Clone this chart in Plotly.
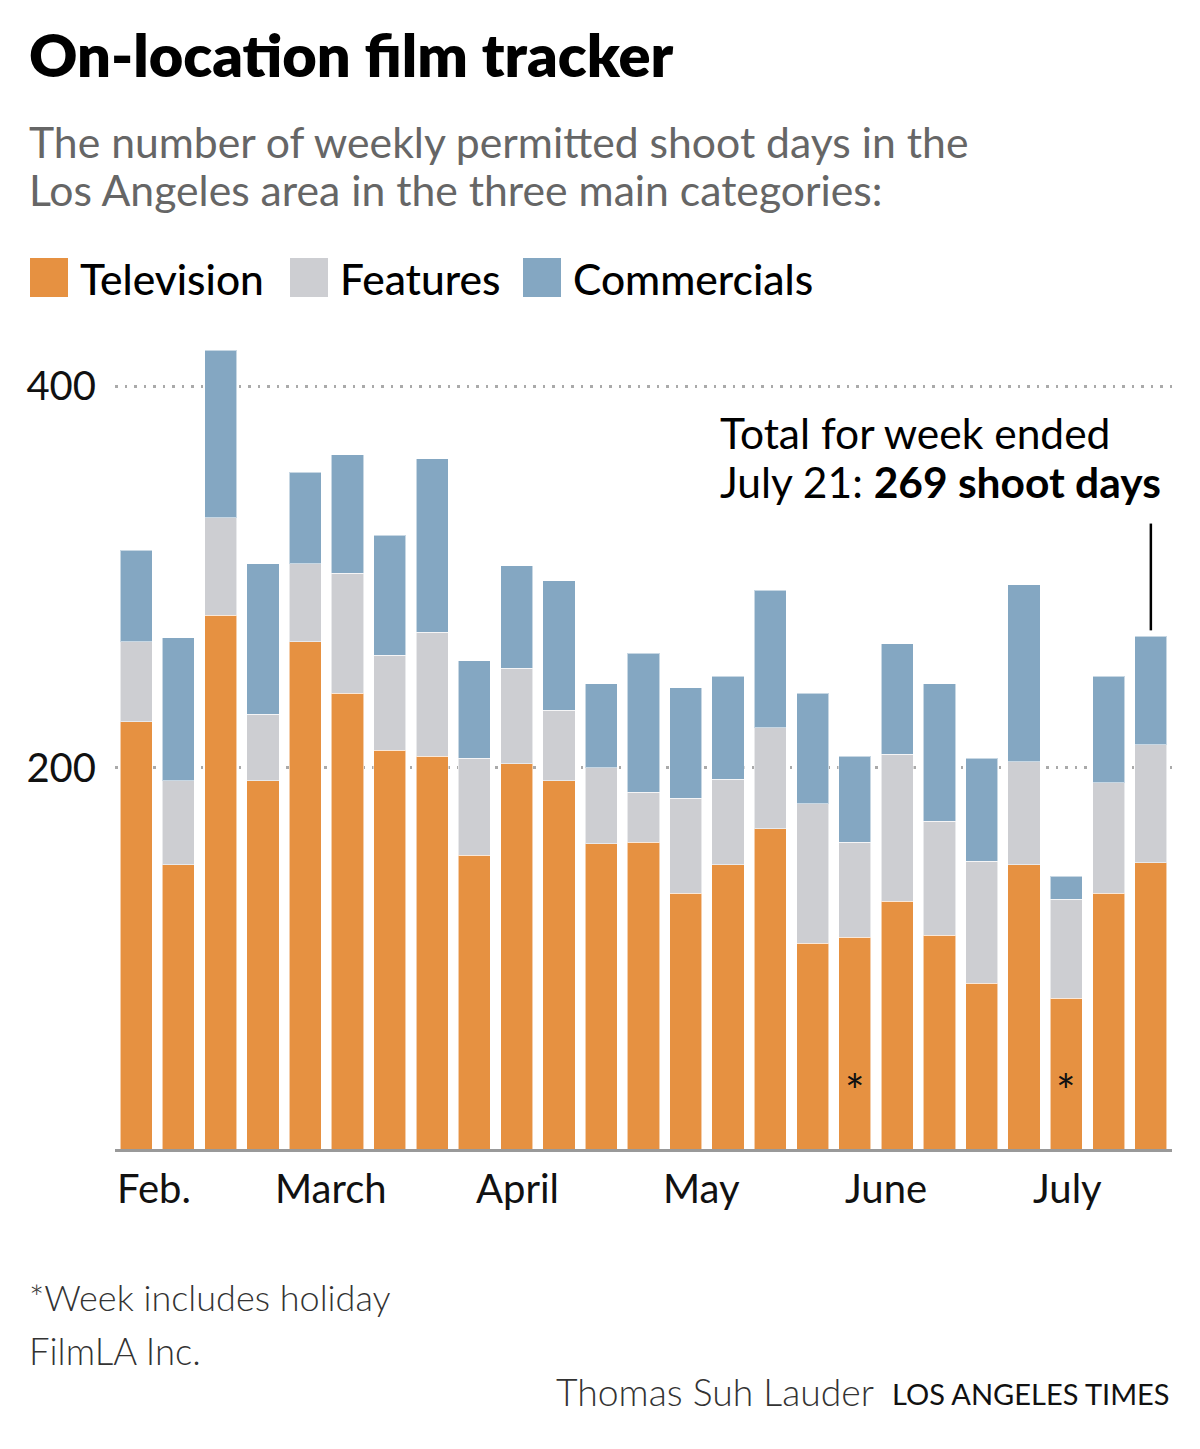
import plotly.graph_objects as go

# ---------------- data ----------------
weeks = ["Feb. 3", "Feb. 10", "Feb. 17", "Feb. 24", "Mar. 3", "Mar. 10", "Mar. 17",
         "Mar. 24", "Mar. 31", "Apr. 7", "Apr. 14", "Apr. 21", "Apr. 28", "May 5",
         "May 12", "May 19", "May 26", "Jun. 2", "Jun. 9", "Jun. 16", "Jun. 23",
         "Jun. 30", "Jul. 7", "Jul. 14", "Jul. 21"]
television = [224, 149, 280, 193, 266, 239, 209, 206, 154, 202, 193, 160, 161,
              134, 149, 168, 108, 111, 130, 112, 87, 149, 79, 134, 150]
features = [42, 44, 51, 35, 41, 63, 50, 65, 51, 50, 37, 40, 26,
            50, 45, 53, 73, 50, 77, 60, 64, 54, 52, 58, 62]
commercials = [48, 75, 88, 79, 48, 62, 63, 91, 51, 54, 68, 44, 73,
               58, 54, 72, 58, 45, 58, 72, 54, 93, 12, 56, 57]
holiday_weeks = ["Jun. 2", "Jul. 7"]
month_labels = ["Feb.", "March", "April", "May", "June", "July"]
y_ticks = [200, 400]

series_names = ["Television", "Features", "Commercials"]
colors = {"Television": "#E69141", "Features": "#CDCED2", "Commercials": "#84A7C2"}

totals = [t + f + c for t, f, c in zip(television, features, commercials)]

# ---------------- layout helpers ----------------
# the page body has an 8px margin, so every screen coordinate is shifted by it
OFF = 8
W, H = 1200, 1449
PW, PH = 1057, 839
L, T = 115 - OFF, 310 - OFF
R, B = W - L - PW, H - T - PH
FONT = "Lato, 'Open Sans', sans-serif"


def px(x):
    return (x - OFF - L) / PW


def py(y):
    return 1 - (y - OFF - T) / PH


fig = go.Figure()
for name, vals in zip(series_names, [television, features, commercials]):
    fig.add_trace(go.Bar(
        x=weeks, y=vals, name=name,
        marker=dict(color=colors[name], line=dict(color="rgba(255,255,255,0.55)", width=1)),
        showlegend=False, hoverinfo="x+y+name",
    ))

annotations = []
shapes = []


def text(t, x, y, size, color="#000", xanchor="left", weight=400, xref="paper", yref="paper"):
    annotations.append(dict(text=t, x=x, y=y, xref=xref, yref=yref,
                            xanchor=xanchor, yanchor="middle", align="left",
                            showarrow=False,
                            font=dict(family=FONT, size=size, color=color, weight=weight)))


# title & subtitle
text("On-location film tracker", px(27), py(54), 59.5, "#000", weight=800)
text("The number of weekly permitted shoot days in the", px(27), py(141), 42.7, "#666")
text("Los Angeles area in the three main categories:", px(27), py(189), 42.7, "#666")

# legend (manual, large swatches)
legend_pos = [(30, 78), (290, 338), (523, 571)]
for name, (sx, tx) in zip(series_names, legend_pos):
    shapes.append(dict(type="rect", xref="paper", yref="paper",
                       x0=px(sx), x1=px(sx + 38), y0=py(297), y1=py(258),
                       fillcolor=colors[name], line=dict(width=0)))
    text(name, px(tx), py(279), 42.5, "#000", weight=500)

# month labels (left-aligned near the first week of each month)
month_pos = [-0.50, 3.24, 8.00, 12.41, 16.72, 21.16]
for lab, xm in zip(month_labels, month_pos):
    text(lab, xm, py(1188), 40, "#111", xref="x")

# holiday asterisks
for wk in holiday_weeks:
    text("*", wk, 30.5, 46, "#111", xanchor="center", xref="x", yref="y")

# latest-week callout
text("Total for week ended", px(718), py(432), 42.5, "#000")
text(f"July 21: <b>{totals[-1]} shoot days</b>", px(718), py(481), 42.5, "#000")
shapes.append(dict(type="line", xref="x", yref="y", x0=weeks[-1], x1=weeks[-1],
                   y0=totals[-1] + 3, y1=totals[-1] + 59,
                   line=dict(color="#000", width=2.5)))

# footer
text("*Week includes holiday", px(27), py(1297), 36, "#333", weight=300)
text("FilmLA Inc.", px(27), py(1351), 36.5, "#333", weight=300)
text("Thomas Suh Lauder", px(876), py(1391), 37.3, "#333", xanchor="right", weight=300)
text("LOS ANGELES TIMES", px(1172), py(1393), 29, "#111", xanchor="right")

fig.update_layout(
    width=W, height=H,
    margin=dict(l=L, r=R, t=T, b=B),
    paper_bgcolor="white", plot_bgcolor="white",
    barmode="stack", bargap=0.24,
    showlegend=False,
    annotations=annotations, shapes=shapes,
    xaxis=dict(type="category", range=[-0.5, 24.5], showticklabels=False, ticks="",
               showgrid=False, showline=True, linecolor="#999", linewidth=2.5,
               fixedrange=True),
    yaxis=dict(range=[0, 440], tickvals=y_ticks, ticks="", showline=False,
               showgrid=True, gridcolor="#aaa", gridwidth=2.5, griddash="2.5px,7px",
               zeroline=False, ticklabelstandoff=18,
               tickfont=dict(family=FONT, size=40, color="#111"), fixedrange=True),
)

fig.write_html("out.html")
